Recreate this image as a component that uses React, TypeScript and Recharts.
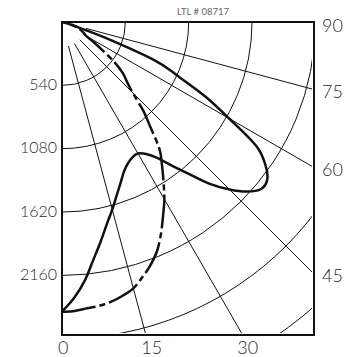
import { RadarChart, Radar, PolarGrid, PolarAngleAxis, PolarRadiusAxis } from "recharts";

// angles from nadir (0) to horizontal (90), candela values
const ANGLES = [
  0, 2.5, 5, 7.5, 10, 12.5, 15, 17.5, 20, 22.5, 25, 27.5, 30, 32.5, 35, 37.5, 40,
  42.5, 45, 47.5, 50, 52.5, 55, 57.5, 60, 62.5, 65, 67.5, 70, 72.5, 75, 80, 85, 90,
];
const SOLID_CD = [
  2470, 2355, 2215, 2045, 1900, 1765, 1655, 1550, 1460, 1380, 1330, 1300, 1295, 1335, 1415, 1545, 1695,
  1875, 2020, 2140, 2215, 2205, 2115, 1960, 1645, 1380, 1090, 855, 385, 100, 35, 10, 0, 0,
];
const DASHED_CD = [
  2470, 2465, 2450, 2440, 2420, 2390, 2350, 2280, 2205, 2115, 1995, 1865, 1745, 1610, 1485, 1365, 1175,
  1025, 850, 750, 675, 565, 425, 325, 240, 215, 190, 165, 145, 115, 85, 45, 15, 0,
];

const RING_TICKS = [540, 1080, 1620, 2160, 2700, 3240, 3780];
const LEFT_LABELS = [540, 1080, 1620, 2160];
const ANGLE_TICKS = [0, 15, 30, 45, 60, 75, 90];
const BOTTOM_LABELS = [0, 15, 30];
const RIGHT_LABELS = [90, 75, 60, 45];
const TITLE = "LTL # 08717";

const R_MAX = 3780;
const PX_PER_CD = 63.35 / 540;
const FX = 62;
const FY = 22;
const FW = 250;
const FH = 310.5;
const FONT = "Lato, 'Open Sans', sans-serif";
const INK = "#111";
const LABEL = "#2a2a2a";

const data = ANGLES.map((a, i) => ({ angle: a, solid: SOLID_CD[i], dashed: DASHED_CD[i] }));
const rad = (d: number) => (d * Math.PI) / 180;

type Pt = { x: number; y: number };

// open catmull-rom curve through the points recharts computed
function smoothPath(pts: Pt[]) {
  let d = `M${pts[0].x},${pts[0].y}`;
  for (let i = 0; i < pts.length - 1; i++) {
    const p0 = pts[i - 1] ?? pts[i];
    const p1 = pts[i];
    const p2 = pts[i + 1];
    const p3 = pts[i + 2] ?? p2;
    const c1x = p1.x + (p2.x - p0.x) / 6;
    const c1y = p1.y + (p2.y - p0.y) / 6;
    const c2x = p2.x - (p3.x - p1.x) / 6;
    const c2y = p2.y - (p3.y - p1.y) / 6;
    d += ` C${c1x},${c1y} ${c2x},${c2y} ${p2.x},${p2.y}`;
  }
  return d;
}

const curveShape = (dash?: string) => (props: any) => (
  <path
    d={smoothPath(props.points)}
    fill="none"
    stroke={INK}
    strokeWidth={2.5}
    strokeLinejoin="round"
    strokeDasharray={dash}
  />
);

export default function App() {
  return (
    <div style={{ position: "absolute", left: 0, top: 0, width: 354, height: 357, background: "#fff" }}>
      <div style={{ position: "absolute", left: FX, top: FY, width: FW, height: FH, overflow: "hidden" }}>
        <RadarChart
          width={FW}
          height={Math.ceil(FH)}
          cx={0}
          cy={0}
          innerRadius={0}
          outerRadius={R_MAX * PX_PER_CD}
          startAngle={-90}
          endAngle={0}
          data={data}
          margin={{ top: 0, right: 0, bottom: 0, left: 0 }}
        >
          <PolarGrid gridType="circle" stroke={INK} strokeWidth={1} />
          <circle cx={0} cy={0} r={25} fill="#fff" />
          <PolarAngleAxis
            dataKey="angle"
            type="number"
            domain={[0, 90]}
            ticks={ANGLE_TICKS}
            tick={false}
            axisLine={false}
            tickLine={false}
          />
          <PolarRadiusAxis
            type="number"
            domain={[0, R_MAX]}
            ticks={RING_TICKS}
            tick={false}
            axisLine={false}
            tickLine={false}
          />
          <Radar
            dataKey="solid"
            stroke={INK}
            fill="none"
            shape={curveShape()}
            dot={false}
            isAnimationActive={false}
          />
          <Radar
            dataKey="dashed"
            stroke={INK}
            fill="none"
            shape={curveShape("34 4 6 4")}
            dot={false}
            isAnimationActive={false}
          />
        </RadarChart>
      </div>
      <div
        style={{
          position: "absolute",
          left: FX - 1,
          top: FY - 1,
          width: FW,
          height: FH,
          border: `2px solid ${INK}`,
        }}
      />
      <svg width={354} height={357} style={{ position: "absolute", left: 0, top: 0 }}>
        <text x={203} y={11} fontSize={9.5} fill="#666" textAnchor="middle" dominantBaseline="central" fontFamily={FONT}>
          {TITLE}
        </text>
        {LEFT_LABELS.map((v) => (
          <text
            key={v}
            x={FX - 5}
            y={FY + v * PX_PER_CD - 2}
            fontSize={16}
            fill={LABEL}
            textAnchor="end"
            dominantBaseline="central"
            fontFamily={FONT}
            fontWeight={300}
          >
            {v}
          </text>
        ))}
        {BOTTOM_LABELS.map((a) => (
          <text
            key={a}
            x={FX + FH * Math.tan(rad(a)) - 4}
            y={347}
            fontSize={18}
            fill={LABEL}
            textAnchor="start"
            dominantBaseline="central"
            fontFamily={FONT}
            fontWeight={300}
          >
            {a}
          </text>
        ))}
        {RIGHT_LABELS.map((a) => (
          <text
            key={a}
            x={FX + FW + 10}
            y={FY + FW / Math.tan(rad(a)) + 2.5}
            fontSize={18}
            fill={LABEL}
            textAnchor="start"
            dominantBaseline="central"
            fontFamily={FONT}
            fontWeight={300}
          >
            {a}
          </text>
        ))}
      </svg>
    </div>
  );
}
